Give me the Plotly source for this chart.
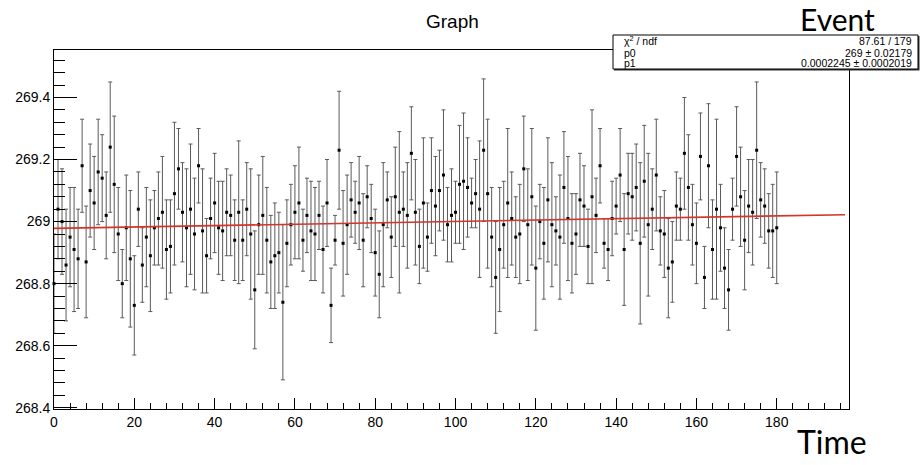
import plotly.graph_objects as go

# ---- data ----
x_vals = list(range(0, 181))
y_vals = [
    268.80, 269.04, 269.00, 268.86, 268.95, 268.91, 268.88, 269.18, 268.87, 269.10,
    269.06, 269.16, 269.14, 269.02, 269.24, 269.12, 268.96, 268.80, 268.98, 268.88,
    268.73, 269.04, 268.86, 268.95, 268.89, 268.98, 269.01, 269.03, 268.91, 268.92,
    269.09, 269.17, 269.03, 268.98, 269.04, 268.96, 269.18, 268.97, 268.89, 269.01,
    269.06, 268.98, 268.97, 269.03, 269.02, 268.94, 269.03, 268.94, 269.04, 268.96,
    268.78, 268.99, 269.02, 268.94, 268.87, 268.89, 268.90, 268.74, 268.93, 268.99,
    269.03, 269.06, 268.94, 269.02, 268.97, 268.96, 269.02, 268.91, 269.06, 268.73,
    268.94, 269.23, 268.93, 268.99, 269.07, 269.03, 269.06, 268.94, 269.08, 269.01,
    268.90, 268.83, 268.99, 269.07, 268.95, 269.08, 269.03, 269.04, 269.02, 269.22,
    269.03, 268.92, 269.06, 268.95, 269.10, 269.05, 269.10, 269.15, 268.99, 269.02,
    269.03, 269.12, 269.13, 269.11, 269.06, 269.09, 269.04, 269.23, 269.09, 268.95,
    268.82, 268.91, 268.99, 269.06, 269.01, 268.95, 268.96, 269.17, 268.99, 269.08,
    268.85, 269.00, 268.93, 269.07, 268.99, 268.97, 268.95, 269.11, 269.01, 268.93,
    268.96, 269.07, 269.05, 268.92, 269.08, 269.02, 269.18, 268.93, 268.91, 269.01,
    269.05, 269.15, 268.91, 269.09, 269.08, 269.11, 268.93, 269.13, 268.99, 269.04,
    269.15, 268.97, 268.96, 268.85, 268.87, 269.05, 269.04, 269.22, 269.11, 268.99,
    268.93, 269.21, 268.82, 269.18, 268.91, 269.04, 268.98, 268.85, 268.78, 269.04,
    269.21, 269.08, 268.94, 269.05, 269.03, 269.23, 269.07, 269.05, 268.97, 268.97,
    268.98,
]
y_errs = [
    0.16, 0.16, 0.17, 0.18, 0.16, 0.20, 0.16, 0.15, 0.18, 0.15,
    0.15, 0.17, 0.14, 0.14, 0.21, 0.22, 0.15, 0.11, 0.17, 0.22,
    0.16, 0.12, 0.12, 0.16, 0.18, 0.12, 0.15, 0.18, 0.16, 0.15,
    0.23, 0.13, 0.16, 0.19, 0.21, 0.18, 0.12, 0.20, 0.12, 0.13,
    0.16, 0.15, 0.16, 0.14, 0.13, 0.13, 0.23, 0.13, 0.15, 0.21,
    0.19, 0.16, 0.19, 0.17, 0.15, 0.17, 0.13, 0.25, 0.14, 0.13,
    0.15, 0.18, 0.10, 0.12, 0.16, 0.15, 0.11, 0.14, 0.14, 0.12,
    0.08, 0.19, 0.17, 0.16, 0.12, 0.10, 0.15, 0.15, 0.10, 0.11,
    0.14, 0.14, 0.20, 0.09, 0.13, 0.16, 0.26, 0.12, 0.17, 0.15,
    0.17, 0.12, 0.21, 0.11, 0.17, 0.16, 0.13, 0.21, 0.12, 0.15,
    0.10, 0.19, 0.22, 0.16, 0.08, 0.11, 0.22, 0.23, 0.24, 0.16,
    0.18, 0.20, 0.14, 0.24, 0.15, 0.13, 0.16, 0.17, 0.18, 0.22,
    0.20, 0.12, 0.18, 0.20, 0.20, 0.11, 0.20, 0.18, 0.20, 0.16,
    0.13, 0.15, 0.13, 0.12, 0.28, 0.12, 0.12, 0.08, 0.10, 0.12,
    0.09, 0.15, 0.18, 0.13, 0.14, 0.14, 0.26, 0.18, 0.23, 0.13,
    0.18, 0.11, 0.14, 0.16, 0.13, 0.11, 0.10, 0.18, 0.17, 0.13,
    0.13, 0.14, 0.10, 0.20, 0.16, 0.29, 0.14, 0.13, 0.13, 0.10,
    0.16, 0.16, 0.16, 0.15, 0.17, 0.22, 0.12, 0.12, 0.12, 0.15,
    0.18,
]
fit_p0 = 268.978
fit_p1 = 0.0002245
fit_x = [0, 197]
fit_y = [fit_p0 + fit_p1 * v for v in fit_x]

x_tick_vals = [0, 20, 40, 60, 80, 100, 120, 140, 160, 180]
y_tick_vals = [268.4, 268.6, 268.8, 269.0, 269.2, 269.4]
y_tick_text = ["268.4", "268.6", "268.8", "269", "269.2", "269.4"]

stats_labels = ["χ<sup>2</sup> / ndf", "p0", "p1"]
stats_values = ["87.61 / 179", "269 ± 0.02179", "0.0002245 ± 0.0002019"]

# ---- layout geometry (pixels) ----
W, H = 920, 465
L, R, T, B = 54, 849, 50, 409


def px(xp):
    return (xp - L) / (R - L)


def py(yp):
    return (B - yp) / (B - T)


ROOT_FONT = "Liberation Sans, Arial, Helvetica, sans-serif"
PPT_FONT = "Lato, Open Sans, sans-serif"

fig = go.Figure()
fig.add_trace(go.Scatter(
    x=x_vals, y=y_vals, mode="markers",
    marker=dict(symbol="square", size=3, color="black"),
    error_y=dict(type="data", array=y_errs, visible=True,
                 color="#5a5a5a", thickness=1, width=2),
    showlegend=False, cliponaxis=False,
))
fig.add_trace(go.Scatter(
    x=fit_x, y=fit_y, mode="lines",
    line=dict(color="#d2352b", width=1.6),
    showlegend=False,
))

fig.update_layout(
    width=W, height=H,
    margin=dict(l=L, r=W - R, t=T, b=H - B, pad=0),
    paper_bgcolor="white", plot_bgcolor="white",
    font=dict(family=ROOT_FONT, size=14, color="black"),
    showlegend=False,
)
fig.update_xaxes(
    range=[0, 198], tickvals=x_tick_vals, ticks="inside", ticklen=11,
    tickwidth=1, tickcolor="black", showline=True, linecolor="black",
    linewidth=1, mirror=True, showgrid=False, zeroline=False,
    tickfont=dict(family=ROOT_FONT, size=14),
    minor=dict(dtick=4, tick0=0, ticks="inside", ticklen=6,
               tickcolor="black", tickwidth=1, showgrid=False),
)
fig.update_yaxes(
    range=[268.396, 269.553], tickvals=y_tick_vals, ticktext=y_tick_text,
    ticks="inside", ticklen=23, tickwidth=1, tickcolor="black",
    showline=True, linecolor="black", linewidth=1, mirror=True,
    showgrid=False, zeroline=False,
    tickfont=dict(family=ROOT_FONT, size=14),
    minor=dict(dtick=0.04, tick0=268.4, ticks="inside", ticklen=11,
               tickcolor="black", tickwidth=1, showgrid=False),
)


def label(text, xp, yp, size, family, xanchor="center"):
    fig.add_annotation(x=px(xp), y=py(yp), xref="paper", yref="paper",
                       text=text, showarrow=False,
                       xanchor=xanchor, yanchor="middle",
                       borderpad=0, borderwidth=0,
                       font=dict(family=family, size=size, color="black"))


# title
label("Graph", 452, 21, 19, ROOT_FONT)

# stats box (with small shadow)
fig.add_shape(type="rect", xref="paper", yref="paper",
              x0=px(614), x1=px(919.5), y0=py(70.5), y1=py(36),
              fillcolor="#333", line=dict(width=0), layer="above")
fig.add_shape(type="rect", xref="paper", yref="paper",
              x0=px(613), x1=px(918), y0=py(69), y1=py(35),
              fillcolor="white", line=dict(color="black", width=1), layer="above")
rows_y = [41, 52.5, 63]
for lab, val, ry in zip(stats_labels, stats_values, rows_y):
    label(lab, 624, ry, 10.5, ROOT_FONT, xanchor="left")
    label(val, 912, ry, 10.5, ROOT_FONT, xanchor="right")

# overlay labels
label("Event", 837, 19, 30, PPT_FONT)
label("Time", 832, 441, 32, PPT_FONT)

fig.write_html(
    "out.html",
    config={"displayModeBar": False},
    post_script="document.body.style.margin='0px';document.body.style.padding='0px';",
)
